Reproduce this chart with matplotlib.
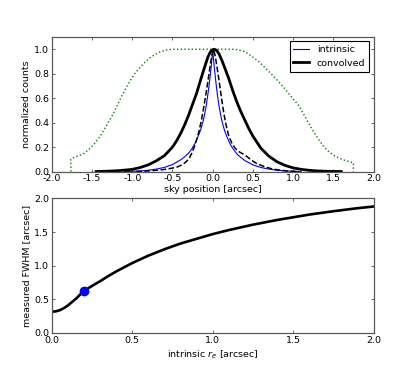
import matplotlib
matplotlib.use("Agg")
import matplotlib.pyplot as plt

# ---- data ----
# intrinsic profile (blue)
intr_x = [-1.1, -1.0, -0.9, -0.8, -0.7, -0.6, -0.5, -0.4, -0.35, -0.3, -0.26, -0.22,
          -0.18, -0.15, -0.12, -0.1, -0.08, -0.06, -0.04, -0.03, -0.02, -0.01, 0.0,
          0.01, 0.02, 0.03, 0.04, 0.06, 0.08, 0.1, 0.12, 0.15, 0.18, 0.22, 0.26, 0.3,
          0.35, 0.4, 0.5, 0.6, 0.7, 0.8, 0.9, 1.0, 1.1]
intr_y = [0.0, 0.002, 0.005, 0.011, 0.02, 0.034, 0.057, 0.095, 0.12, 0.15, 0.185, 0.23,
          0.29, 0.34, 0.41, 0.47, 0.54, 0.63, 0.73, 0.79, 0.85, 0.92, 1.0,
          0.92, 0.85, 0.79, 0.73, 0.62, 0.53, 0.46, 0.40, 0.33, 0.28, 0.22, 0.18, 0.145,
          0.115, 0.09, 0.055, 0.033, 0.02, 0.011, 0.005, 0.002, 0.0]

# convolved profile (thick black)
conv_x = [-1.45, -1.3, -1.15, -1.0, -0.9, -0.8, -0.7, -0.6, -0.5, -0.45, -0.4, -0.35,
          -0.3, -0.25, -0.2, -0.15, -0.1, -0.06, -0.03, 0.0, 0.02, 0.05, 0.08, 0.12,
          0.16, 0.2, 0.25, 0.3, 0.35, 0.4, 0.45, 0.5, 0.55, 0.6, 0.7, 0.8, 0.9, 1.0,
          1.1, 1.2, 1.3, 1.45, 1.6]
conv_y = [0.0, 0.003, 0.008, 0.018, 0.033, 0.055, 0.088, 0.13, 0.20, 0.25, 0.31, 0.38,
          0.46, 0.55, 0.64, 0.75, 0.855, 0.935, 0.977, 0.996, 1.0, 0.99, 0.96, 0.90,
          0.83, 0.76, 0.66, 0.57, 0.49, 0.42, 0.35, 0.29, 0.24, 0.19, 0.125, 0.08, 0.05, 0.03,
          0.018, 0.01, 0.005, 0.0015, 0.0]

# dashed black profile
dash_x = [-0.95, -0.8, -0.65, -0.55, -0.45, -0.38, -0.33, -0.29, -0.26, -0.23, -0.2,
          -0.17, -0.14, -0.11, -0.08, -0.05, -0.03, -0.01, 0.01, 0.03, 0.05, 0.08, 0.11,
          0.14, 0.17, 0.2, 0.24, 0.28, 0.32, 0.36, 0.4, 0.45, 0.5, 0.55, 0.65, 0.75,
          0.85, 0.95, 1.05]
dash_y = [0.0, 0.005, 0.013, 0.022, 0.035, 0.055, 0.08, 0.11, 0.15, 0.20, 0.26,
          0.33, 0.42, 0.53, 0.65, 0.78, 0.87, 0.95, 1.0, 0.95, 0.87, 0.74, 0.60,
          0.47, 0.37, 0.29, 0.23, 0.19, 0.165, 0.15, 0.135, 0.11, 0.085, 0.065, 0.038, 0.02,
          0.01, 0.004, 0.0]

# green dotted profile
green_x = [-1.764, -1.764, -1.72, -1.66, -1.6, -1.54, -1.48, -1.42, -1.36, -1.3, -1.23,
           -1.18, -1.13, -1.08, -1.03, -0.97, -0.9, -0.84, -0.78, -0.71, -0.65, -0.58,
           -0.5, 0.25, 0.32, 0.4, 0.48, 0.57, 0.65, 0.74, 0.82, 0.9, 0.98, 1.07, 1.13,
           1.19, 1.25, 1.32, 1.38, 1.44, 1.5, 1.57, 1.65, 1.73, 1.75, 1.75]
green_y = [0.0, 0.10, 0.118, 0.13, 0.148, 0.18, 0.22, 0.27, 0.33, 0.40, 0.48,
           0.55, 0.62, 0.68, 0.74, 0.80, 0.855, 0.895, 0.93, 0.96, 0.98, 0.993,
           1.0, 1.0, 0.995, 0.98, 0.945, 0.90, 0.85, 0.79, 0.735, 0.675, 0.61, 0.54, 0.47,
           0.40, 0.33, 0.26, 0.205, 0.165, 0.135, 0.11, 0.09, 0.075, 0.072, 0.0]

# measured FWHM vs intrinsic r_e
re_vals = [0.0, 0.025, 0.05, 0.075, 0.1, 0.125, 0.15, 0.175, 0.2, 0.25, 0.3, 0.35,
           0.4, 0.5, 0.6, 0.7, 0.8, 0.9, 1.0, 1.1, 1.25, 1.4, 1.5, 1.6, 1.75, 1.9, 2.0]
fwhm_vals = [0.316, 0.322, 0.34, 0.37, 0.41, 0.46, 0.51, 0.57, 0.627, 0.70, 0.77, 0.845,
             0.915, 1.04, 1.15, 1.245, 1.33, 1.40, 1.47, 1.53, 1.61, 1.68, 1.72, 1.76,
             1.81, 1.855, 1.88]
point_re = [0.2]
point_fwhm = [0.63]

top_xticks = [-2.0, -1.5, -1.0, -0.5, 0.0, 0.5, 1.0, 1.5, 2.0]
top_yticks = [0.0, 0.2, 0.4, 0.6, 0.8, 1.0]
bot_xticks = [0.0, 0.5, 1.0, 1.5, 2.0]
bot_yticks = [0.0, 0.5, 1.0, 1.5, 2.0]

FS = 6.8
plt.rcParams['font.family'] = ['DejaVu Sans']
plt.rcParams['font.size'] = FS

fig = plt.figure(figsize=(4.15, 3.70), dpi=100)
fig.subplots_adjust(left=0.125, right=0.9, top=0.9, bottom=0.1, hspace=0.2)
ax1 = fig.add_subplot(211)
ax2 = fig.add_subplot(212)

ax1.plot(green_x, green_y, ':', color='green', lw=1.0)
ax1.plot(intr_x, intr_y, '-', color='blue', lw=0.8, label='intrinsic')
ax1.plot(dash_x, dash_y, '--', color='black', lw=1.1)
ax1.plot(conv_x, conv_y, '-', color='black', lw=2.0, label='convolved')
ax1.set_xlim(-2, 2)
ax1.set_ylim(0, 1.1)
ax1.set_xticks(top_xticks)
ax1.set_yticks(top_yticks)
ax1.set_xlabel('sky position [arcsec]', labelpad=1)
ax1.set_ylabel('normalized counts', labelpad=2)
leg = ax1.legend(loc='upper right', fontsize=FS, handlelength=1.7,
                 fancybox=False, framealpha=1, borderaxespad=0.45)
leg.get_frame().set_edgecolor('black')
leg.get_frame().set_linewidth(0.8)

ax2.plot(re_vals, fwhm_vals, '-', color='black', lw=1.9)
ax2.plot(point_re, point_fwhm, 'o', color='blue', ms=6, mec='blue')
ax2.set_xlim(0, 2)
ax2.set_ylim(0, 2)
ax2.set_xticks(bot_xticks)
ax2.set_yticks(bot_yticks)
ax2.set_xlabel('intrinsic $r_e$ [arcsec]', labelpad=3)
ax2.set_ylabel('measured FWHM [arcsec]', labelpad=2)

for ax in (ax1, ax2):
    ax.xaxis.set_major_formatter(matplotlib.ticker.FormatStrFormatter('%.1f'))
    ax.yaxis.set_major_formatter(matplotlib.ticker.FormatStrFormatter('%.1f'))
    ax.tick_params(direction='in', top=True, right=True, length=2.5, width=0.6,
                   pad=2, labelsize=FS, color='0.3')
    for s in ax.spines.values():
        s.set_color('0.35')
        s.set_linewidth(0.9)

fig.savefig('out.png', dpi=100, facecolor='white')
